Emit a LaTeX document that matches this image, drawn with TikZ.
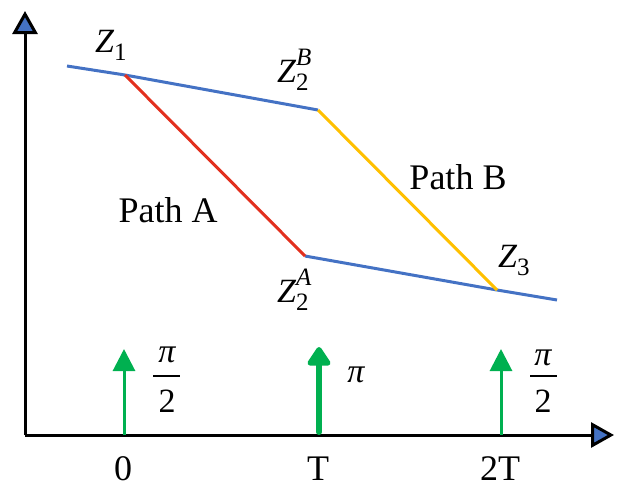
\documentclass[tikz,border=0pt]{standalone}
\usepackage{fontspec}
\setmainfont{Liberation Serif}
\usetikzlibrary{arrows.meta}
\definecolor{lblue}{RGB}{68,114,196}
\definecolor{lred}{RGB}{226,48,30}
\definecolor{lyellow}{RGB}{255,192,0}
\definecolor{lgreen}{RGB}{0,176,80}
\definecolor{tipblue}{RGB}{68,114,196}
\tikzset{
  axisline/.style={line width=3pt,-{Triangle[length=23pt,width=25pt,fill=tipblue,line width=3pt,line join=miter]}},
  pathline/.style={line width=3pt},
  pulse/.style={draw=lgreen,line width=3pt,-{Triangle[length=22pt,width=22pt,fill=lgreen]}},
  bigpulse/.style={draw=lgreen,line width=6pt,line cap=round,-{Triangle[length=21pt,width=26pt,fill=lgreen,round]}},
  lab/.style={font=\fontsize{34}{38}\selectfont,inner sep=0pt,anchor=base west},
  txt/.style={font=\fontsize{36}{40}\selectfont,inner sep=0pt},
  fr/.style={font=\fontsize{34}{38}\selectfont,inner sep=0pt},
  fracbar/.style={line width=1.3pt},
}
\newcommand{\zlab}[2]{{\itshape Z}\rlap{\raisebox{-8pt}{\fontsize{25}{25}\selectfont #1}}\raisebox{17pt}{\fontsize{25}{25}\selectfont\itshape #2}}
\begin{document}
\begin{tikzpicture}[x=1pt,y=-1pt]
\useasboundingbox (0,0) rectangle (618,488);
% axes
\coordinate (O) at (25,435);
\coordinate (ytop) at (25,11);
\coordinate (xend) at (614,435);
\draw[axisline] (O) -- (ytop);
\draw[axisline] (O) -- (xend);
% key points
\coordinate (s) at (67,66);
\coordinate (z1) at (125,75);
\coordinate (z2b) at (318,110);
\coordinate (z2a) at (305,256);
\coordinate (z3) at (497,290);
\coordinate (e) at (557,300);
\draw[pathline,lblue] (s) -- (z1) -- (z2b);
\draw[pathline,lblue] (z2a) -- (z3) -- (e);
\draw[pathline,lred] (z1) -- (z2a);
\draw[pathline,lyellow] (z2b) -- (z3);
% labels
\node[lab] (lz1) at (95,52) {\zlab{1}{}};
\node[lab] (lz2b) at (277,82) {\zlab{2}{B}};
\node[lab] (lz2a) at (277,302) {\zlab{2}{A}};
\node[lab] (lz3) at (498,267) {\zlab{3}{}};
\node[txt] (pa) at (168,210) {Path A};
\node[txt] (pb) at (458,177) {Path B};
% pulses
\coordinate (p0) at (124,435);
\coordinate (p0t) at (124,349);
\coordinate (p1) at (319,432);
\coordinate (p1t) at (319,347);
\coordinate (p2) at (501,435);
\coordinate (p2t) at (501,349);
\draw[pulse] (p0) -- (p0t);
\draw[bigpulse] (p1) -- (p1t);
\draw[pulse] (p2) -- (p2t);
% pi/2 fractions
\node[fr] (f0n) at (167,355) {\itshape π};
\node[fr] (f0d) at (167,401) {2};
\coordinate (f0l) at (153,376);
\coordinate (f0r) at (180,376);
\draw[fracbar] (f0l) -- (f0r);
\node[fr] (f1) at (356,375) {\itshape π};
\node[fr] (f2n) at (543,358) {\itshape π};
\node[fr] (f2d) at (543,401) {2};
\coordinate (f2l) at (530,376);
\coordinate (f2r) at (557,376);
\draw[fracbar] (f2l) -- (f2r);
% ticks
\node[txt] (t0) at (123,469) {0};
\node[txt] (t1) at (318,469) {T};
\node[txt] (t2) at (500,469) {2T};
\end{tikzpicture}
\end{document}
